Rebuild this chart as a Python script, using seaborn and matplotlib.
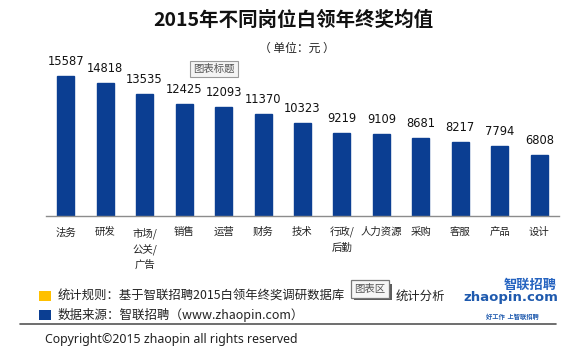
import matplotlib
matplotlib.use("Agg")
import matplotlib.pyplot as plt
import seaborn as sns
import pandas as pd
import numpy as np
from matplotlib.patches import Rectangle
from matplotlib.ticker import FixedLocator

sns.set_theme(style="white")
plt.rcParams['font.family'] = ['Noto Sans CJK SC', 'DejaVu Sans']

categories = ["法务", "研发", "市场/\n公关/\n广告", "销售", "运营", "财务", "技术",
              "行政/\n后勤", "人力资源", "采购", "客服", "产品", "设计"]
values = [15587, 14818, 13535, 12425, 12093, 11370, 10323, 9219, 9109, 8681, 8217, 7794, 6808]

title = "2015年不同岗位白领年终奖均值"
subtitle = "（ 单位：元 ）"
note1_a = "统计规则：基于智联招聘2015白领年终奖调研数据库"
note1_b = "统计分析"
note2 = "数据来源：智联招聘（www.zhaopin.com）"
copyright_text = "Copyright©2015 zhaopin all rights reserved"

df = pd.DataFrame({"cat": categories, "val": values})

W, H = 580, 350
fig = plt.figure(figsize=(W / 100, H / 100), dpi=100)
fig.patch.set_facecolor("white")

ax = fig.add_axes([46 / W, 1 - 216 / H, 513 / W, 161.7 / H])
bar_color = "#0B3E92"
sns.barplot(data=df, x="cat", y="val", color=bar_color, width=0.43, ax=ax,
            saturation=1, edgecolor=bar_color)
ax.set_ylim(0, 18000)
ax.set_xlim(-0.5, len(categories) - 0.5)
ax.set_xlabel("")
ax.set_ylabel("")
ax.set_yticks([])
for s in ["top", "right", "left"]:
    ax.spines[s].set_visible(False)
ax.spines["bottom"].set_color("#8c8c8c")
ax.spines["bottom"].set_linewidth(1.0)
ax.tick_params(axis="x", which="major", length=0, pad=8, labelsize=7.5, labelcolor="#222222")
ax.xaxis.set_minor_locator(FixedLocator(np.arange(-0.5, len(categories), 1.0)))
ax.tick_params(axis="x", which="minor", length=3, width=0.8, color="#8c8c8c", direction="out")
for lbl in ax.get_xticklabels():
    lbl.set_linespacing(1.55)
    lbl.set_verticalalignment("top")

for i, v in enumerate(values):
    ax.annotate(f"{v}", (i, v), xytext=(0, 8), textcoords="offset points",
                ha="center", va="baseline", fontsize=8.3, color="#111111",
                family=["DejaVu Sans"])

# titles
fig.text(293 / W, 1 - 20 / H, title, ha="center", va="center", fontsize=14,
         fontweight="bold", color="#111111")
fig.text(297 / W, 1 - 48 / H, subtitle, ha="center", va="center", fontsize=8.5,
         color="#222222")

# Excel artifact box "图表标题"
fig.text(214 / W, 1 - 69 / H, "图表标题", ha="center", va="center", fontsize=7.5,
         color="#555555",
         bbox=dict(boxstyle="square,pad=0.3", facecolor="#f4f4f4", edgecolor="#9a9a9a", lw=0.8))

# footer legend squares
fig.patches.append(Rectangle((39 / W, 1 - 301 / H), 12 / W, 10 / H, transform=fig.transFigure,
                             facecolor="#FFC000", edgecolor="none"))
fig.patches.append(Rectangle((39 / W, 1 - 320 / H), 12 / W, 10 / H, transform=fig.transFigure,
                             facecolor="#0B3E92", edgecolor="none"))
fig.text(58 / W, 1 - 296 / H, note1_a, ha="left", va="center", fontsize=8.9, color="#222222")
fig.text(396 / W, 1 - 296 / H, note1_b, ha="left", va="center", fontsize=8.9, color="#222222")
fig.text(58 / W, 1 - 315 / H, note2, ha="left", va="center", fontsize=9, color="#222222")

# Excel artifact box "图表区" with shadow
fig.patches.append(Rectangle((354 / W, 1 - 300 / H), 38 / W, 16 / H, transform=fig.transFigure,
                             facecolor="#333333", edgecolor="none", alpha=0.8, zorder=9))
fig.text(370 / W, 1 - 289 / H, "图表区", ha="center", va="center", fontsize=7.5,
         color="#555555", zorder=10,
         bbox=dict(boxstyle="square,pad=0.35", facecolor="#f6f6f6", edgecolor="#777777", lw=0.9))

# separator line
fig.add_artist(plt.Line2D([20 / W, 556 / W], [1 - 324 / H, 1 - 324 / H], transform=fig.transFigure,
                          color="#555555", lw=1.2))
fig.text(45 / W, 1 - 340 / H, copyright_text, ha="left", va="center", fontsize=8.9,
         color="#222222", family=["Noto Sans", "DejaVu Sans"])

# logo
fig.text(530 / W, 1 - 285 / H, "智联招聘", ha="center", va="center", fontsize=9.5,
         fontweight="bold", style="italic", color="#2563C0")
fig.text(511 / W, 1 - 298 / H, "zhaopin.com", ha="center", va="center", fontsize=9.5,
         fontweight="bold", color="#1F5AAE", family=["DejaVu Sans"])
fig.text(512 / W, 1 - 316 / H, "好工作  上智联招聘", ha="center", va="center", fontsize=4.5,
         fontweight="bold", style="italic", color="#1F5AAE")

fig.savefig("out.png", dpi=100, facecolor="white")
